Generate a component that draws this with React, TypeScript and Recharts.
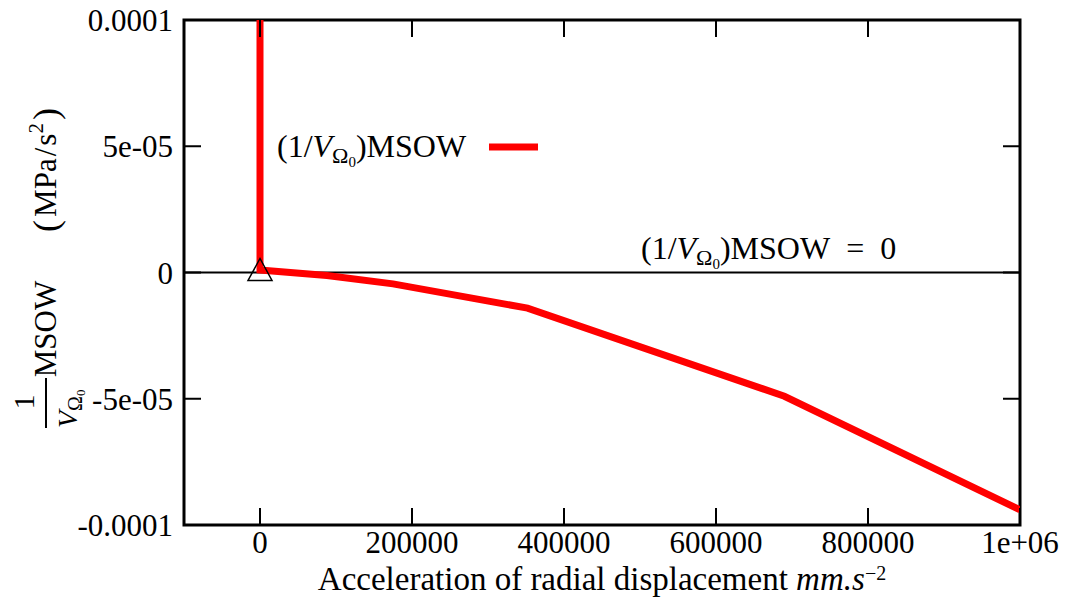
import React from 'react';
import {
  ComposedChart,
  Line,
  Scatter,
  XAxis,
  YAxis,
  ReferenceLine,
  ReferenceArea,
  Customized,
} from 'recharts';

// ---- data ----
const accel = [0, 0, 88000, 175000, 352000, 690000, 1000000];
const msow = [2e-4, 1e-6, -1.2e-6, -4.5e-6, -1.41e-5, -4.9e-5, -9.4e-5];
const markerX = [0];
const markerY = [0];
const xTicks = [0, 200000, 400000, 600000, 800000, 1000000];
const xTickLabels = ['0', '200000', '400000', '600000', '800000', '1e+06'];
const yTicks = [-1e-4, -5e-5, 0, 5e-5, 1e-4];
const yTickLabels = ['-0.0001', '-5e-05', '0', '5e-05', '0.0001'];
const xDomain = [-100000, 1000000];
const yDomain = [-1e-4, 1e-4];

const lineData = accel.map((x, i) => ({ x, y: msow[i] }));
const markerData = markerX.map((x, i) => ({ x, y: markerY[i] }));

// ---- layout ----
const W = 1073;
const H = 601;
const LEFT = 184;
const RIGHT = 1020;
const TOP = 20;
const BOTTOM = 525;
const TICK = 17;
const FONT = "'Liberation Serif', 'DejaVu Serif', serif";

const YTick = (props: any) => {
  const { x, y, payload } = props;
  const idx = yTicks.indexOf(payload.value);
  return (
    <g>
      <line x1={LEFT} x2={LEFT + TICK} y1={y} y2={y} stroke="#000" strokeWidth={2} />
      <line x1={RIGHT - TICK} x2={RIGHT} y1={y} y2={y} stroke="#000" strokeWidth={2} />
      <text x={x} y={y} dy={11} textAnchor="end" fontSize={31} fontFamily={FONT} fill="#000">
        {idx >= 0 ? yTickLabels[idx] : ''}
      </text>
    </g>
  );
};

const XTick = (props: any) => {
  const { x, payload } = props;
  const idx = xTicks.indexOf(payload.value);
  return (
    <g>
      <line x1={x} x2={x} y1={BOTTOM} y2={BOTTOM - TICK} stroke="#000" strokeWidth={2} />
      <line x1={x} x2={x} y1={TOP} y2={TOP + TICK} stroke="#000" strokeWidth={2} />
      <text x={x} y={BOTTOM + 28} textAnchor="middle" fontSize={31} fontFamily={FONT} fill="#000">
        {idx >= 0 ? xTickLabels[idx] : ''}
      </text>
    </g>
  );
};

const Triangle = (props: any) => {
  const { cx, cy } = props;
  const pts = `${cx},${cy - 14} ${cx - 12},${cy + 8} ${cx + 12},${cy + 8}`;
  return <polygon points={pts} fill="none" stroke="#000" strokeWidth={1.5} />;
};

const Annotations = () => (
  <g fontFamily={FONT} fill="#000">
    {/* legend */}
    <text x={277} y={157} fontSize={32}>
      (1/<tspan fontStyle="italic">V</tspan>
      <tspan fontSize={22} dy={6}>Ω</tspan>
      <tspan fontSize={15} dy={4}>0</tspan>
      <tspan dy={-10}>)MSOW</tspan>
    </text>
    <line x1={489} x2={538} y1={147} y2={147} stroke="#ff0000" strokeWidth={7} />

    {/* zero line label */}
    <text x={641} y={259} fontSize={32}>
      (1/<tspan fontStyle="italic">V</tspan>
      <tspan fontSize={22} dy={6}>Ω</tspan>
      <tspan fontSize={15} dy={4}>0</tspan>
      <tspan dy={-10}>)MSOW</tspan>
      <tspan dx={16}>=</tspan>
      <tspan dx={16}>0</tspan>
    </text>

    {/* x axis title */}
    <text x={602} y={590} fontSize={33} textAnchor="middle">
      Acceleration of radial displacement{' '}
      <tspan fontStyle="italic">mm.s</tspan>
      <tspan fontSize={20} dy={-10}>−2</tspan>
    </text>

    {/* y axis title (rotated) */}
    <text transform="translate(56,329) rotate(-90)" x={0} y={0} fontSize={31} textAnchor="middle">
      MSOW
    </text>
    <text transform="translate(56,170) rotate(-90)" x={0} y={0} fontSize={31} textAnchor="middle">
      <tspan fontSize={36} dy={2}>(</tspan>
      <tspan dx={3} dy={-2}>MPa</tspan>
      <tspan dx={2}>/</tspan>
      <tspan dx={2}>s</tspan>
      <tspan fontSize={21} dy={-13}>2</tspan>
      <tspan fontSize={36} dx={3} dy={15}>)</tspan>
    </text>
    <text transform="translate(34,402) rotate(-90)" x={0} y={0} fontSize={30} textAnchor="middle">
      1
    </text>
    <line x1={46} x2={46} y1={378} y2={428} stroke="#000" strokeWidth={2} />
    <text transform="translate(77,428) rotate(-90)" x={0} y={0} fontSize={28}>
      <tspan fontStyle="italic">V</tspan>
      <tspan fontSize={20} dy={5}>Ω</tspan>
      <tspan fontSize={13} dy={3}>0</tspan>
    </text>
  </g>
);

export default function App() {
  return (
    <div style={{ position: 'absolute', left: 0, top: 0, width: W, height: H, background: '#fff' }}>
      <ComposedChart
        width={W}
        height={H}
        margin={{ top: TOP, right: W - RIGHT, left: 0, bottom: 0 }}
      >
        <XAxis
          dataKey="x"
          type="number"
          domain={xDomain}
          ticks={xTicks}
          interval={0}
          allowDataOverflow
          height={H - BOTTOM}
          axisLine={false}
          tickLine={false}
          tickSize={0}
          tickMargin={0}
          tick={<XTick />}
        />
        <YAxis
          dataKey="y"
          type="number"
          domain={yDomain}
          ticks={yTicks}
          interval={0}
          allowDataOverflow
          width={LEFT}
          axisLine={false}
          tickLine={false}
          tickSize={0}
          tickMargin={11}
          tick={<YTick />}
        />
        <ReferenceLine y={0} stroke="#000" strokeWidth={2} />
        <Line
          data={lineData}
          dataKey="y"
          type="linear"
          stroke="#ff0000"
          strokeWidth={7}
          dot={false}
          activeDot={false}
          isAnimationActive={false}
        />
        <Scatter data={markerData} dataKey="y" shape={<Triangle />} isAnimationActive={false} />
        <ReferenceArea
          x1={xDomain[0]}
          x2={xDomain[1]}
          y1={yDomain[0]}
          y2={yDomain[1]}
          fill="none"
          fillOpacity={0}
          stroke="#000"
          strokeWidth={3}
        />
        <Customized component={<Annotations />} />
      </ComposedChart>
    </div>
  );
}
